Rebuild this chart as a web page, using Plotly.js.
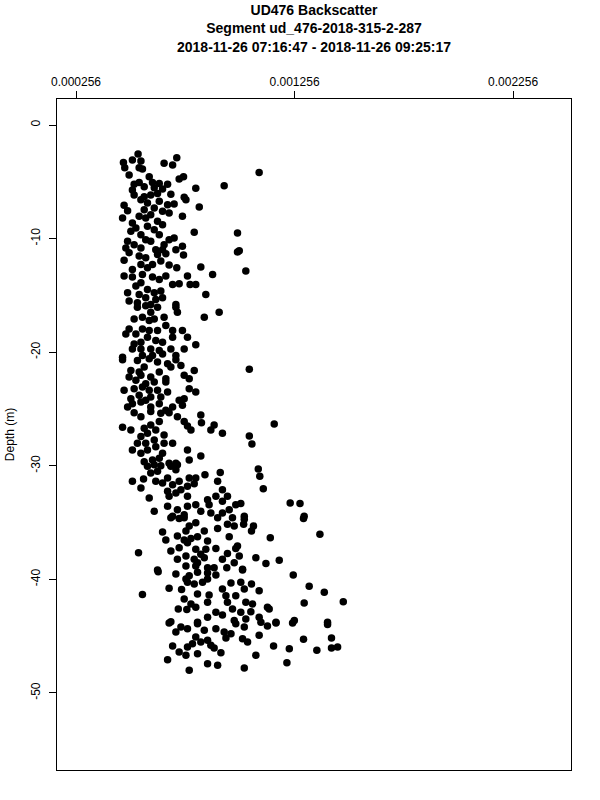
<!DOCTYPE html>
<html>
<head>
<meta charset="utf-8">
<script src="https://cdn.plot.ly/plotly-3.0.1.min.js"></script>
<style>html,body{margin:0;padding:0;background:#fff;}#plot{width:600px;height:800px;}</style>
</head>
<body>
<div id="plot"></div>
<script>
// Backscatter values
const backscatter = [
// -2.5 .. -6.4 m
5.40e-4,5.14e-4,4.73e-4,5.53e-4,4.79e-4,5.45e-4,5.60e-4,4.99e-4,6.59e-4,6.98e-4,7.17e-4,7.48e-4,7.28e-4,10.94e-4,9.34e-4,8.04e-4,5.91e-4,5.22e-4,5.45e-4,5.68e-4,6.06e-4,6.37e-4,6.75e-4,6.52e-4,6.90e-4,7.51e-4,5.22e-4,5.68e-4,5.98e-4,6.29e-4,6.14e-4,5.14e-4,
// -6.4 .. -11 m
4.76e-4,4.92e-4,4.69e-4,5.14e-4,5.45e-4,5.68e-4,5.83e-4,6.14e-4,5.75e-4,5.98e-4,6.29e-4,6.52e-4,6.82e-4,7.05e-4,6.75e-4,7.43e-4,8.20e-4,7.59e-4,6.37e-4,5.53e-4,5.07e-4,5.30e-4,5.53e-4,5.83e-4,6.14e-4,6.37e-4,6.52e-4,7.05e-4,6.82e-4,7.43e-4,7.97e-4,9.95e-4,10.03e-4,4.84e-4,5.22e-4,5.53e-4,5.98e-4,6.21e-4,6.59e-4,5.75e-4,4.92e-4,6.52e-4,7.13e-4,
// -11 .. -16 m
4.76e-4,4.99e-4,5.45e-4,5.75e-4,6.29e-4,6.67e-4,7.48e-4,9.95e-4,5.14e-4,5.53e-4,5.83e-4,6.06e-4,6.44e-4,6.82e-4,7.17e-4,8.27e-4,8.81e-4,10.33e-4,4.76e-4,5.14e-4,5.60e-4,6.06e-4,6.37e-4,6.67e-4,6.98e-4,7.28e-4,7.66e-4,7.78e-4,8.04e-4,5.53e-4,5.30e-4,5.83e-4,6.14e-4,6.44e-4,4.92e-4,5.45e-4,5.75e-4,6.21e-4,6.52e-4,8.50e-4,7.13e-4,4.99e-4,5.37e-4,5.98e-4,
// -16 .. -20.5 m
5.37e-4,5.75e-4,5.98e-4,6.29e-4,7.13e-4,7.20e-4,8.43e-4,9.11e-4,5.22e-4,5.60e-4,5.91e-4,6.14e-4,6.59e-4,6.67e-4,6.98e-4,7.43e-4,4.99e-4,4.84e-4,5.30e-4,5.60e-4,5.91e-4,6.29e-4,5.83e-4,6.21e-4,6.52e-4,6.98e-4,7.66e-4,8.04e-4,7.51e-4,5.22e-4,5.53e-4,5.14e-4,5.53e-4,5.98e-4,6.37e-4,6.90e-4,4.69e-4,5.60e-4,6.06e-4,7.13e-4,6.52e-4,
// -20.5 .. -25 m
4.69e-4,5.37e-4,5.91e-4,6.29e-4,6.75e-4,7.13e-4,7.36e-4,7.97e-4,10.49e-4,5.07e-4,5.45e-4,5.68e-4,5.98e-4,6.37e-4,6.67e-4,6.90e-4,7.51e-4,7.74e-4,4.99e-4,5.30e-4,5.53e-4,5.75e-4,6.14e-4,6.67e-4,4.76e-4,5.22e-4,5.60e-4,5.91e-4,6.29e-4,6.44e-4,6.75e-4,7.74e-4,8.04e-4,5.07e-4,5.45e-4,5.75e-4,5.98e-4,5.14e-4,5.53e-4,5.98e-4,6.37e-4,7.28e-4,7.51e-4,6.98e-4,7.43e-4,6.67e-4,4.92e-4,
// -25 .. -30 m
5.22e-4,5.53e-4,5.98e-4,6.44e-4,6.82e-4,7.20e-4,8.27e-4,8.30e-4,7.51e-4,7.66e-4,7.82e-4,8.88e-4,8.73e-4,9.26e-4,10.49e-4,10.61e-4,11.63e-4,4.69e-4,5.07e-4,5.68e-4,5.53e-4,5.83e-4,6.21e-4,6.59e-4,5.98e-4,6.37e-4,5.37e-4,5.75e-4,6.14e-4,6.59e-4,6.98e-4,5.14e-4,5.53e-4,5.83e-4,6.21e-4,6.52e-4,7.66e-4,7.74e-4,8.27e-4,7.13e-4,6.82e-4,5.68e-4,6.06e-4,6.37e-4,
// -30 .. -34.5 m
5.83e-4,6.14e-4,6.44e-4,6.90e-4,7.20e-4,5.98e-4,6.29e-4,6.75e-4,7.13e-4,5.14e-4,5.65e-4,6.21e-4,6.52e-4,6.98e-4,7.28e-4,7.66e-4,7.74e-4,8.04e-4,7.97e-4,8.46e-4,9.16e-4,9.04e-4,9.26e-4,10.90e-4,10.97e-4,11.13e-4,5.53e-4,5.91e-4,6.75e-4,6.82e-4,7.13e-4,7.66e-4,7.36e-4,8.58e-4,8.65e-4,8.96e-4,9.49e-4,9.26e-4,9.87e-4,10.10e-4,12.36e-4,12.81e-4,6.14e-4,6.75e-4,7.20e-4,7.66e-4,8.04e-4,7.51e-4,6.98e-4,8.27e-4,8.73e-4,9.26e-4,9.57e-4,10.26e-4,13.00e-4,
// -34.5 .. -39 m
6.90e-4,7.28e-4,7.51e-4,8.04e-4,7.74e-4,7.59e-4,9.04e-4,9.49e-4,9.72e-4,9.80e-4,10.26e-4,10.23e-4,10.68e-4,10.59e-4,12.97e-4,6.52e-4,6.67e-4,7.20e-4,7.51e-4,7.82e-4,8.12e-4,8.43e-4,8.58e-4,9.04e-4,9.57e-4,11.45e-4,13.72e-4,5.42e-4,6.90e-4,7.28e-4,7.66e-4,8.04e-4,8.50e-4,8.96e-4,9.49e-4,9.95e-4,9.87e-4,7.20e-4,7.59e-4,7.97e-4,8.27e-4,8.12e-4,8.43e-4,9.26e-4,9.80e-4,10.03e-4,10.79e-4,11.25e-4,11.86e-4,6.29e-4,7.59e-4,8.04e-4,8.58e-4,8.88e-4,9.46e-4,10.18e-4,
// -39 .. -44 m
6.32e-4,7.13e-4,7.59e-4,7.74e-4,8.12e-4,8.58e-4,8.96e-4,10.18e-4,12.50e-4,5.60e-4,6.82e-4,7.39e-4,7.66e-4,7.97e-4,8.35e-4,8.58e-4,8.12e-4,8.65e-4,9.26e-4,9.65e-4,10.10e-4,10.59e-4,10.26e-4,10.94e-4,13.23e-4,13.92e-4,7.51e-4,7.82e-4,8.04e-4,8.58e-4,9.42e-4,9.87e-4,10.33e-4,10.64e-4,9.49e-4,11.32e-4,13.00e-4,14.79e-4,7.24e-4,7.63e-4,8.96e-4,9.26e-4,9.72e-4,10.10e-4,10.56e-4,10.94e-4,11.40e-4,6.90e-4,8.12e-4,8.58e-4,9.80e-4,11.02e-4,11.71e-4,12.55e-4,14.07e-4,10.33e-4,
// -44 .. -48 m
6.82e-4,7.36e-4,7.13e-4,7.66e-4,8.12e-4,8.43e-4,8.04e-4,8.58e-4,8.96e-4,9.34e-4,9.65e-4,9.87e-4,10.26e-4,10.18e-4,10.41e-4,10.94e-4,11.32e-4,11.71e-4,12.47e-4,14.07e-4,6.98e-4,7.28e-4,7.66e-4,7.89e-4,8.27e-4,8.73e-4,8.88e-4,9.19e-4,7.59e-4,8.12e-4,9.42e-4,11.60e-4,12.32e-4,12.97e-4,13.58e-4,14.25e-4,14.25e-4,14.53e-4,6.75e-4,10.79e-4,8.58e-4,9.04e-4,7.74e-4,10.26e-4,12.21e-4
];

// Depth values (m)
const depth = [
-2.55,-3.08,-3.29,-3.17,-3.76,-3.76,-3.87,-4.40,-3.37,-3.52,-2.88,-4.55,-4.75,-4.17,-5.34,-5.57,-4.55,-5.22,-5.05,-5.43,-5.05,-5.14,-5.22,-5.63,-6.10,-6.37,-6.16,-6.31,-6.16,-6.02,-5.52,-5.72,
-7.07,-7.54,-8.19,-8.63,-8.04,-7.45,-6.87,-7.31,-8.19,-7.89,-8.48,-7.60,-7.75,-6.95,-7.01,-8.04,-7.22,-6.57,-6.72,-6.57,-9.36,-9.07,-9.65,-8.92,-9.21,-9.65,-8.77,-9.95,-10.09,-10.68,-9.45,-9.51,-11.06,-10.83,-10.53,-10.83,-10.24,-10.97,-10.53,-10.09,-10.24,-10.97,-10.97,
-11.91,-11.24,-11.53,-11.68,-11.39,-11.33,-11.44,-11.18,-12.71,-12.27,-12.56,-12.27,-11.97,-12.32,-12.56,-12.50,-13.15,-12.85,-13.29,-13.38,-13.15,-13.38,-13.59,-13.29,-14.03,-13.97,-13.29,-14.03,-14.03,-13.88,-14.17,-14.47,-14.76,-14.61,-14.76,-14.91,-15.20,-15.35,-15.20,-14.91,-15.79,-15.49,-15.64,-15.79,
-16.05,-15.90,-16.49,-16.05,-16.05,-16.49,-16.93,-16.49,-17.08,-16.93,-17.22,-17.08,-16.93,-17.66,-18.10,-18.10,-17.96,-18.40,-18.40,-17.96,-18.10,-18.10,-18.69,-18.98,-19.13,-18.69,-18.69,-19.34,-19.72,-19.28,-19.13,-19.72,-19.72,-19.72,-19.86,-19.72,-20.45,-20.30,-20.30,-20.30,-20.16,
-20.66,-20.72,-20.57,-20.86,-21.01,-20.66,-21.16,-21.60,-21.51,-21.60,-21.74,-21.30,-22.18,-21.74,-22.33,-21.30,-22.04,-22.33,-22.18,-22.48,-22.04,-22.77,-22.62,-22.62,-23.36,-23.21,-23.06,-23.36,-23.36,-23.94,-23.50,-23.21,-23.50,-24.09,-23.80,-24.24,-23.94,-24.53,-24.38,-24.82,-24.53,-24.24,-24.09,-24.82,-24.68,-25.12,-24.82,
-25.32,-25.68,-25.23,-25.38,-25.32,-25.68,-25.53,-26.20,-26.11,-26.50,-26.85,-26.41,-26.85,-27.14,-27.38,-28.08,-26.32,-26.61,-26.85,-26.70,-27.43,-27.14,-26.85,-27.29,-26.41,-26.11,-28.02,-28.02,-27.73,-28.02,-28.02,-28.61,-28.90,-28.61,-28.32,-28.90,-28.61,-29.49,-29.14,-29.78,-29.78,-29.64,-29.49,-29.34,
-30.05,-29.90,-29.99,-30.05,-29.90,-30.63,-30.49,-31.07,-30.34,-31.37,-31.16,-31.37,-31.51,-31.66,-31.37,-31.81,-31.07,-31.07,-31.57,-30.78,-30.58,-31.37,-32.10,-30.28,-30.93,-32.01,-31.95,-32.83,-32.25,-32.69,-32.39,-32.69,-32.10,-32.98,-33.42,-32.69,-32.69,-33.13,-33.42,-33.33,-33.27,-33.33,-34.01,-33.57,-33.86,-33.57,-33.42,-34.30,-34.45,-34.01,-34.15,-34.15,-33.86,-34.45,-34.45,
-34.57,-34.65,-34.57,-35.01,-35.30,-35.74,-34.57,-35.15,-34.57,-35.30,-34.71,-35.15,-35.30,-35.74,-34.65,-35.83,-36.53,-36.18,-36.53,-36.41,-36.24,-35.74,-36.62,-35.53,-36.24,-36.33,-36.03,-37.65,-37.50,-37.21,-36.77,-37.35,-37.35,-37.27,-37.71,-37.06,-37.29,-38.23,-37.94,-38.23,-37.79,-38.53,-38.09,-38.23,-38.53,-37.94,-38.09,-38.61,-38.32,-39.17,-38.82,-38.82,-38.97,-38.97,-38.97,-39.11,
-39.32,-39.52,-39.96,-39.67,-39.38,-39.44,-39.61,-39.17,-39.61,-41.34,-40.79,-40.90,-40.26,-40.41,-40.26,-39.96,-41.29,-41.37,-40.84,-40.32,-40.26,-40.41,-40.84,-40.99,-40.61,-41.14,-41.73,-42.17,-42.46,-42.02,-41.43,-41.43,-42.02,-42.17,-42.02,-42.46,-42.08,-41.96,-42.61,-42.66,-42.90,-43.13,-42.61,-42.90,-42.84,-43.34,-42.61,-43.72,-43.78,-43.34,-43.63,-43.78,-43.78,-43.63,-43.78,-43.49,
-43.84,-44.19,-44.63,-44.34,-43.90,-44.48,-45.07,-45.36,-44.34,-44.63,-44.78,-43.90,-44.19,-45.22,-45.51,-44.92,-44.10,-43.84,-43.84,-43.98,-45.86,-46.39,-45.95,-45.66,-45.51,-45.80,-46.04,-46.45,-46.68,-46.54,-45.16,-45.86,-46.10,-45.28,-46.24,-45.16,-46.04,-45.95,-47.07,-46.68,-47.42,-47.56,-48.00,-47.80,-47.33
];

const xTickVals = [0.000256, 0.001256, 0.002256];
const xTickText = ["0.000256", "0.001256", "0.002256"];
const yTickVals = [0, -10, -20, -30, -40, -50];
const yTickText = ["0", "-10", "-20", "-30", "-40", "-50"];

const titleLines = [
  "UD476 Backscatter",
  "Segment ud_476-2018-315-2-287",
  "2018-11-26 07:16:47 - 2018-11-26 09:25:17"
];

const FONT = "Liberation Sans, Arial, Helvetica, sans-serif";

const trace = {
  type: "scatter",
  mode: "markers",
  x: backscatter,
  y: depth,
  marker: {color: "#000000", size: 7.5, line: {width: 0}},
  hoverinfo: "x+y",
  showlegend: false
};

const layout = {
  width: 600,
  height: 800,
  paper_bgcolor: "#ffffff",
  plot_bgcolor: "#ffffff",
  margin: {l: 57, r: 29, t: 99, b: 30},
  font: {family: FONT, size: 12, color: "#000000"},
  title: {
    text: titleLines.join("<br>"),
    font: {family: FONT, size: 14, color: "#000000", weight: "bold"},
    x: 0.5, xref: "paper", xanchor: "center",
    y: 0.981, yref: "container", yanchor: "top"
  },
  xaxis: {
    side: "top",
    range: [0.000169, 0.002521],
    tickmode: "array",
    tickvals: xTickVals,
    ticktext: xTickText,
    ticks: "outside",
    ticklen: 7,
    tickwidth: 1,
    tickcolor: "#000000",
    showline: true,
    linecolor: "#000000",
    linewidth: 1,
    mirror: true,
    showgrid: false,
    zeroline: false,
    tickfont: {family: FONT, size: 12, color: "#000000"}
  },
  yaxis: {
    range: [-56.78, 2.29],
    tickmode: "array",
    tickvals: yTickVals,
    ticktext: yTickText,
    tickangle: -90,
    ticks: "outside",
    ticklen: 7,
    tickwidth: 1,
    tickcolor: "#000000",
    ticklabelstandoff: 4,
    showline: true,
    linecolor: "#000000",
    linewidth: 1,
    mirror: true,
    showgrid: false,
    zeroline: false,
    tickfont: {family: FONT, size: 12, color: "#000000"},
    title: {text: "Depth (m)", font: {family: FONT, size: 12, color: "#000000"}, standoff: 12}
  }
};

Plotly.newPlot("plot", [trace], layout, {displayModeBar: false, staticPlot: true});
</script>
</body>
</html>
